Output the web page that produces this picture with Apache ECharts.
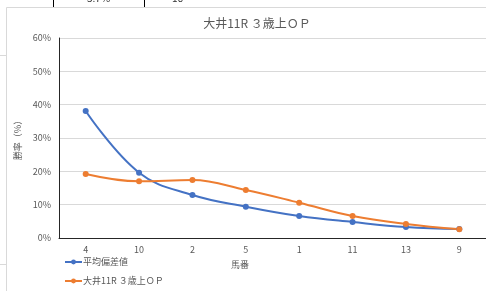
<!DOCTYPE html>
<html>
<head>
<meta charset="utf-8">
<script src="https://cdn.jsdelivr.net/npm/echarts@6/dist/echarts.min.js"></script>
<style>
  html, body { margin: 0; padding: 0; background: #fff; }
  #chart { width: 486px; height: 291px; }
</style>
</head>
<body>
<div id="chart"></div>
<script>
const categories = ['4', '10', '2', '5', '1', '11', '13', '9'];
const avgDeviation = [38.1, 19.6, 12.9, 9.4, 6.6, 4.8, 3.3, 2.7];
const raceRate = [19.2, 17.0, 17.4, 14.4, 10.6, 6.6, 4.2, 2.6];
const seriesNames = ['平均偏差値', '大井11R ３歳上ＯＰ'];
const titleText = '大井11R ３歳上ＯＰ';

const font = '"Noto Sans CJK JP", "Noto Sans", sans-serif';
const grey = '#595959';

const chart = echarts.init(document.getElementById('chart'));

const lineSeries = (name, data, color) => ({
  name,
  type: 'line',
  data,
  smooth: 0.4,
  symbol: 'circle',
  symbolSize: 6,
  lineStyle: { color, width: 2 },
  itemStyle: { color },
  animation: false
});

chart.setOption({
  backgroundColor: '#fff',
  textStyle: { fontFamily: font },
  title: {
    text: titleText,
    left: 252,
    top: 12,
    textAlign: 'center',
    textStyle: { color: grey, fontSize: 12, fontWeight: 'normal', fontFamily: font }
  },
  legend: {
    orient: 'vertical',
    left: 64,
    top: 256,
    padding: 0,
    itemWidth: 17,
    itemHeight: 6,
    itemGap: 7,
    textStyle: { color: grey, fontSize: 9, fontFamily: font, padding: [0, 0, 0, -4], lineHeight: 12 },
    data: seriesNames
  },
  grid: { left: 59, top: 38, width: 432, height: 200 },
  xAxis: {
    type: 'category',
    data: categories,
    boundaryGap: true,
    axisLine: { lineStyle: { color: '#262626', width: 1 } },
    axisTick: { inside: true, length: 3, lineStyle: { color: '#262626' } },
    axisLabel: { color: grey, fontSize: 9, margin: 7, fontFamily: font },
    splitLine: { show: false }
  },
  yAxis: {
    type: 'value',
    min: 0,
    max: 60,
    interval: 10,
    name: '勝率（%）',
    nameLocation: 'middle',
    nameGap: 30,
    nameRotate: 90,
    nameTextStyle: { color: grey, fontSize: 9, fontFamily: font },
    axisLine: { show: true, lineStyle: { color: '#262626', width: 1 } },
    axisTick: { show: false },
    axisLabel: { color: grey, fontSize: 9, margin: 8, formatter: '{value}%', fontFamily: font },
    splitLine: { lineStyle: { color: '#D9D9D9', width: 1 } }
  },
  graphic: [
    { type: 'rect', shape: { x: 6.5, y: 7.5, width: 500, height: 300 }, style: { fill: 'none', stroke: '#D9D9D9', lineWidth: 1 }, silent: true, z: -1 },
    { type: 'line', shape: { x1: 0, y1: 55.5, x2: 6, y2: 55.5 }, style: { stroke: '#D9D9D9', lineWidth: 1 } },
    { type: 'line', shape: { x1: 0, y1: 264.5, x2: 6, y2: 264.5 }, style: { stroke: '#D9D9D9', lineWidth: 1 } },
    { type: 'line', shape: { x1: 53.5, y1: 0, x2: 53.5, y2: 7 }, style: { stroke: '#000', lineWidth: 1 } },
    { type: 'line', shape: { x1: 144.5, y1: 0, x2: 144.5, y2: 7 }, style: { stroke: '#000', lineWidth: 1 } },
    { type: 'text', x: 87, y: -7, style: { text: '5.7%', fill: '#333', font: '10px ' + font } },
    { type: 'text', x: 172, y: -7, style: { text: '16', fill: '#333', font: '10px ' + font } },
    { type: 'text', x: 240, y: 265, style: { text: '馬番', fill: grey, font: '9px ' + font, align: 'center', verticalAlign: 'middle' } }
  ],
  series: [
    lineSeries(seriesNames[0], avgDeviation, '#4472C4'),
    lineSeries(seriesNames[1], raceRate, '#ED7D31')
  ]
});
</script>
</body>
</html>
